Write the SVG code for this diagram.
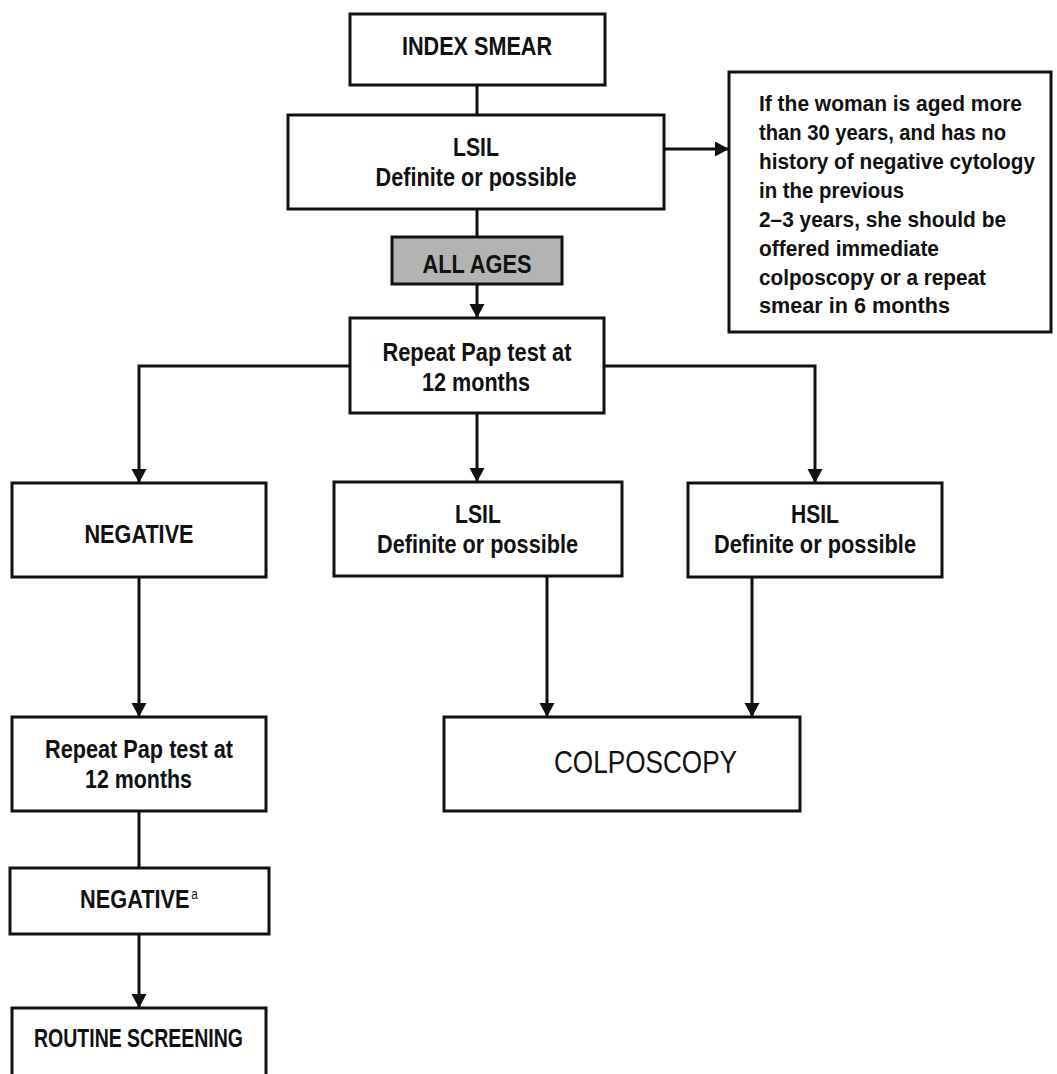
<svg xmlns="http://www.w3.org/2000/svg" width="1057" height="1074" viewBox="0 0 1057 1074">
<defs>
<style>
.box{fill:#fff;stroke:#111;stroke-width:3}
.grey{fill:#b3b3b3;stroke:#111;stroke-width:3}
.t{font-family:"Liberation Sans",Arial,sans-serif;font-weight:bold;font-size:26px;fill:#111}
.c{text-anchor:middle}
.n{font-family:"Liberation Sans",Arial,sans-serif;font-size:22px;font-weight:bold;fill:#111}
.big{font-family:"Liberation Sans",Arial,sans-serif;font-size:31px;fill:#111}
.sup{font-family:"Liberation Sans",Arial,sans-serif;font-size:14px;font-weight:normal}
.ln{fill:none;stroke:#111;stroke-width:3}
</style>
<marker id="ah" markerUnits="userSpaceOnUse" markerWidth="16" markerHeight="16" refX="14" refY="7.5" orient="auto">
<path d="M0,0 L14,7.5 L0,15 z" fill="#111"/>
</marker>
</defs>
<rect width="1057" height="1074" fill="#fff"/>
<g id="connectors">
<line class="ln" x1="477" y1="85" x2="477" y2="116"/>
<line class="ln" x1="477" y1="209" x2="477" y2="238"/>
<line class="ln" x1="477" y1="284" x2="477" y2="318" marker-end="url(#ah)"/>
<line class="ln" x1="664" y1="149" x2="729" y2="149" marker-end="url(#ah)"/>
<polyline class="ln" points="350,366 139,366 139,483" marker-end="url(#ah)"/>
<line class="ln" x1="477" y1="413" x2="477" y2="482" marker-end="url(#ah)"/>
<polyline class="ln" points="604,366 815,366 815,483" marker-end="url(#ah)"/>
<line class="ln" x1="139" y1="577" x2="139" y2="717" marker-end="url(#ah)"/>
<line class="ln" x1="547" y1="576" x2="547" y2="717" marker-end="url(#ah)"/>
<line class="ln" x1="752" y1="577" x2="752" y2="717" marker-end="url(#ah)"/>
<line class="ln" x1="139" y1="811" x2="139" y2="868"/>
<line class="ln" x1="139" y1="934" x2="139" y2="1008" marker-end="url(#ah)"/>
</g>
<g id="index-smear">
<rect class="box" x="350" y="14" width="255" height="71"/>
<text class="t c" x="477" y="55" textLength="150" lengthAdjust="spacingAndGlyphs">INDEX SMEAR</text>
</g>
<g id="lsil-1">
<rect class="box" x="288" y="115" width="376" height="94"/>
<text class="t c" x="476" y="156" textLength="46" lengthAdjust="spacingAndGlyphs">LSIL</text>
<text class="t c" x="476" y="186" textLength="201" lengthAdjust="spacingAndGlyphs">Definite or possible</text>
</g>
<g id="note">
<rect class="box" x="729" y="72" width="322" height="260"/>
<text class="n" x="759" y="111" textLength="263" lengthAdjust="spacingAndGlyphs">If the woman is aged more</text>
<text class="n" x="759" y="140" textLength="247" lengthAdjust="spacingAndGlyphs">than 30 years, and has no</text>
<text class="n" x="759" y="169" textLength="276" lengthAdjust="spacingAndGlyphs">history of negative cytology</text>
<text class="n" x="759" y="198" textLength="145" lengthAdjust="spacingAndGlyphs">in the previous</text>
<text class="n" x="759" y="227" textLength="247" lengthAdjust="spacingAndGlyphs">2–3 years, she should be</text>
<text class="n" x="759" y="256" textLength="180" lengthAdjust="spacingAndGlyphs">offered immediate</text>
<text class="n" x="759" y="285" textLength="227" lengthAdjust="spacingAndGlyphs">colposcopy or a repeat</text>
<text class="n" x="759" y="313" textLength="191" lengthAdjust="spacingAndGlyphs">smear in 6 months</text>
</g>
<g id="all-ages">
<rect class="grey" x="392" y="237" width="170" height="47"/>
<text class="t c" x="477" y="273" textLength="109" lengthAdjust="spacingAndGlyphs">ALL AGES</text>
</g>
<g id="repeat-1">
<rect class="box" x="350" y="318" width="254" height="95"/>
<text class="t c" x="477" y="361" textLength="189" lengthAdjust="spacingAndGlyphs">Repeat Pap test at</text>
<text class="t c" x="476" y="391" textLength="108" lengthAdjust="spacingAndGlyphs">12 months</text>
</g>
<g id="negative-1">
<rect class="box" x="12" y="483" width="254" height="94"/>
<text class="t c" x="139" y="543" textLength="109" lengthAdjust="spacingAndGlyphs">NEGATIVE</text>
</g>
<g id="lsil-2">
<rect class="box" x="334" y="482" width="288" height="94"/>
<text class="t c" x="478" y="523" textLength="46" lengthAdjust="spacingAndGlyphs">LSIL</text>
<text class="t c" x="477.5" y="553" textLength="201" lengthAdjust="spacingAndGlyphs">Definite or possible</text>
</g>
<g id="hsil">
<rect class="box" x="688" y="483" width="254" height="94"/>
<text class="t c" x="815" y="523" textLength="48" lengthAdjust="spacingAndGlyphs">HSIL</text>
<text class="t c" x="815" y="553" textLength="202" lengthAdjust="spacingAndGlyphs">Definite or possible</text>
</g>
<g id="repeat-2">
<rect class="box" x="12" y="717" width="254" height="94"/>
<text class="t c" x="139" y="758" textLength="188" lengthAdjust="spacingAndGlyphs">Repeat Pap test at</text>
<text class="t c" x="138.5" y="788" textLength="107" lengthAdjust="spacingAndGlyphs">12 months</text>
</g>
<g id="colposcopy">
<rect class="box" x="444" y="717" width="356" height="94"/>
<text class="big" x="554" y="773" textLength="183" lengthAdjust="spacingAndGlyphs">COLPOSCOPY</text>
</g>
<g id="negative-2">
<rect class="box" x="10" y="868" width="259" height="66"/>
<text class="t" transform="translate(80,908) scale(0.837,1)" x="0" y="0">NEGATIVE<tspan class="sup" dx="2" dy="-9">a</tspan></text>
</g>
<g id="routine">
<path class="box" d="M12,1080 L12,1008 L266,1008 L266,1080"/>
<text class="t c" x="138.5" y="1047" textLength="209" lengthAdjust="spacingAndGlyphs">ROUTINE SCREENING</text>
</g>
</svg>
